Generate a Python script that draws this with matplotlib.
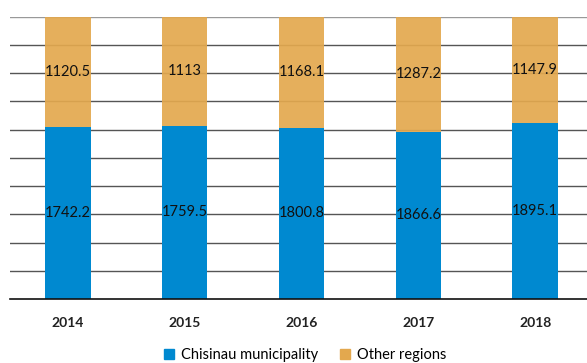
import matplotlib
matplotlib.use("Agg")
import matplotlib.pyplot as plt
import numpy as np

years = ["2014", "2015", "2016", "2017", "2018"]
chisinau = [1742.2, 1759.5, 1800.8, 1866.6, 1895.1]
other = [1120.5, 1113, 1168.1, 1287.2, 1147.9]
chisinau_labels = ["1742.2", "1759.5", "1800.8", "1866.6", "1895.1"]
other_labels = ["1120.5", "1113", "1168.1", "1287.2", "1147.9"]

plt.rcParams['font.family'] = ['Lato', 'DejaVu Sans']

blue = "#0089D0"
orange = "#E3A84E"

fig = plt.figure(figsize=(5.87, 3.63), dpi=100)
ax = fig.add_axes([9.5/587, 64/363, 584/587, 282.5/363])

c = np.array(chisinau)
o = np.array(other)
tot = c + o
cp = c / tot * 100
op = o / tot * 100
x = np.arange(len(years))

ax.set_axisbelow(True)
for yv in np.arange(10, 101, 10):
    ax.axhline(yv, color="#555555" if yv < 100 else "#999999", lw=1.0, zorder=0.5)
ax.bar(x, cp, width=0.39, color=blue, zorder=2)
ax.bar(x, op, width=0.39, bottom=cp, color=orange, alpha=0.92, zorder=2)

for i in range(len(years)):
    ax.text(x[i], cp[i] / 2, chisinau_labels[i], ha="center", va="center", fontsize=10.5, color="#111111", zorder=3)
    ax.text(x[i], cp[i] + op[i] / 2, other_labels[i], ha="center", va="center", fontsize=10.5, color="#111111", zorder=3)

ax.set_xlim(-0.5, 4.5)
ax.set_ylim(0, 100)
ax.set_yticks([])
ax.set_xticks(x)
ax.set_xticklabels(years, fontsize=10, fontweight="bold", color="#222222")
ax.tick_params(axis="x", length=0, pad=13)
for s in ["left", "right", "top"]:
    ax.spines[s].set_visible(False)
ax.spines["bottom"].set_color("#111111")
ax.spines["bottom"].set_linewidth(1.2)

from matplotlib.patches import Patch
handles = [Patch(color=blue, label="Chisinau municipality"), Patch(color=orange, label="Other regions")]
fig.legend(handles=handles, loc="center", bbox_to_anchor=(305/587, 1 - 355/363), ncol=2, frameon=False,
           fontsize=10.5, handlelength=0.7, handleheight=0.7, handletextpad=0.45, columnspacing=1.5)

fig.savefig("out.png", dpi=100)
